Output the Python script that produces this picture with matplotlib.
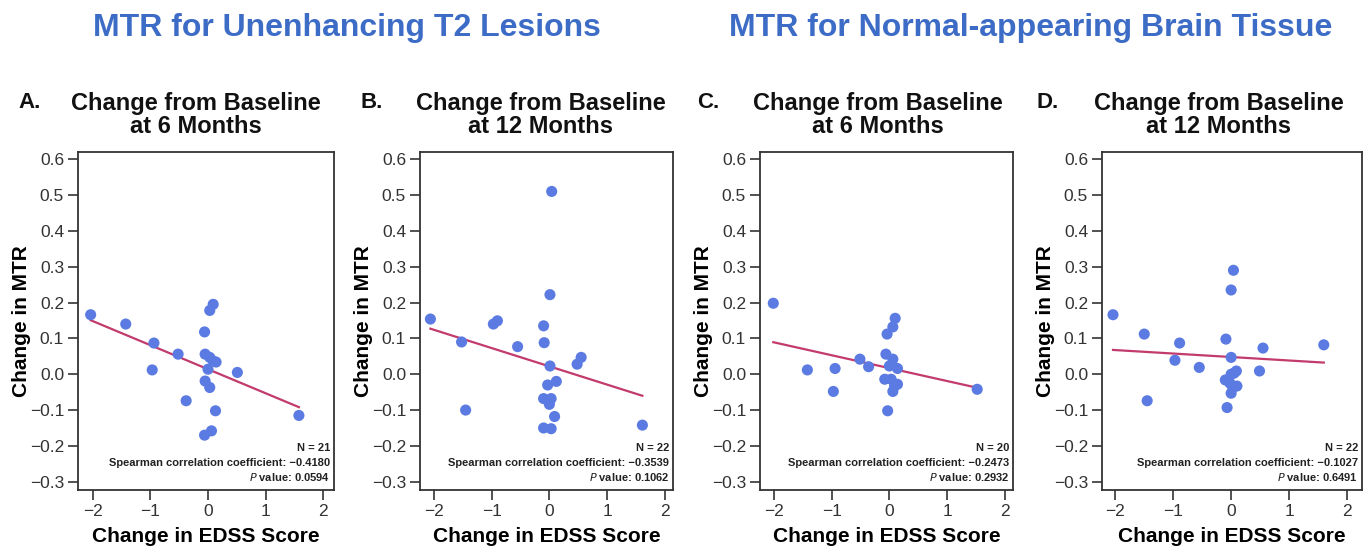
import numpy as np
import matplotlib
matplotlib.use("Agg")
import matplotlib.pyplot as plt
from matplotlib.ticker import FuncFormatter

plt.rcParams['font.family'] = ['Liberation Sans', 'DejaVu Sans']

# ---- data ----
letters = ['A.', 'B.', 'C.', 'D.']
subtitles = ['Change from Baseline\nat 6 Months', 'Change from Baseline\nat 12 Months',
             'Change from Baseline\nat 6 Months', 'Change from Baseline\nat 12 Months']
group_titles = ['MTR for Unenhancing T2 Lesions', 'MTR for Normal-appearing Brain Tissue']

edss_a = [-2.04, -1.43, -0.94, -0.97, -0.52, -0.38, -0.06, -0.05, 0.03, 0.09, 0.14,
          -0.05, 0.03, 0.13, 0.09, 0.03, -0.06, 0.06, 0.51, 1.58, 0.0]
mtr_a = [0.166, 0.140, 0.087, 0.012, 0.056, -0.074, 0.118, 0.056, 0.047, 0.037, 0.034,
         -0.019, -0.037, -0.102, 0.195, 0.178, -0.170, -0.158, 0.005, -0.115, 0.014]

edss_b = [-2.06, -1.52, -1.45, -0.97, -0.90, -0.55, 0.04, 0.01, -0.10, -0.09, 0.01,
          -0.03, 0.12, -0.10, 0.03, 0.0, 0.09, -0.10, 0.03, 0.48, 0.55, 1.61]
mtr_b = [0.154, 0.090, -0.100, 0.140, 0.149, 0.077, 0.510, 0.222, 0.135, 0.088, 0.023,
         -0.030, -0.020, -0.068, -0.068, -0.084, -0.118, -0.150, -0.152, 0.028, 0.047, -0.142]

edss_c = [-2.01, -1.42, -0.94, -0.97, -0.51, -0.36, -0.04, -0.06, 0.06, 0.10, 0.06,
          0.14, -0.08, 0.03, 0.06, 0.14, -0.03, 1.52, 0.0, 0.09]
mtr_c = [0.198, 0.012, 0.016, -0.048, 0.042, 0.021, 0.112, 0.056, 0.042, 0.156, 0.132,
         0.016, -0.014, -0.014, -0.048, -0.028, -0.102, -0.042, 0.023, -0.033]

edss_d = [-2.04, -1.50, -1.45, -0.89, -0.97, -0.55, 0.04, 0.0, -0.09, 0.0, 0.09,
          0.0, -0.10, 0.03, 0.10, 0.0, -0.07, 0.55, 0.49, 1.60, -0.02, 0.05]
mtr_d = [0.166, 0.112, -0.074, 0.087, 0.039, 0.019, 0.290, 0.235, 0.098, 0.047, 0.009,
         0.0, -0.016, -0.037, -0.033, -0.053, -0.093, 0.073, 0.009, 0.082, -0.025, 0.003]

# fitted lines (intercept, slope) as shown
fit_intercept = [0.014, 0.022, 0.017, 0.048]
fit_slope = [-0.067, -0.051, -0.036, -0.0097]

n_values = [21, 22, 20, 22]
spearman = ['\u22120.4180', '\u22120.3539', '\u22120.2473', '\u22120.1027']
p_values = ['0.0594', '0.1062', '0.2932', '0.6491']

xs = [edss_a, edss_b, edss_c, edss_d]
ys = [mtr_a, mtr_b, mtr_c, mtr_d]

W, H = 1367, 556
fig = plt.figure(figsize=(W / 100, H / 100), dpi=100, facecolor='white')

# axes boxes in pixels: left, right, top, bottom
boxes = [(78, 334, 152, 490), (420, 673, 152, 490), (760, 1013, 152, 490), (1102, 1362, 152, 490)]
xlims = [(-2.26, 2.19), (-2.24, 2.14), (-2.24, 2.14), (-2.23, 2.26)]

dot_color = '#5b7be2'
line_color = '#c23b6c'
blue_title = '#3d6cc6'

def minus_fmt(fmt):
    return FuncFormatter(lambda v, p: (fmt % v).replace('-', '\u2212'))

for i in range(4):
    l, r, t, b = boxes[i]
    ax = fig.add_axes([l / W, 1 - b / H, (r - l) / W, (b - t) / H])
    ax.scatter(xs[i], ys[i], s=64, color=dot_color, edgecolors='none', zorder=3)
    xl = np.array([min(xs[i]), max(xs[i])])
    ax.plot(xl, fit_intercept[i] + fit_slope[i] * xl, color=line_color, lw=1.6, zorder=2)
    ax.set_xlim(*xlims[i])
    ax.set_ylim(-0.323, 0.62)
    ax.set_xticks([-2, -1, 0, 1, 2])
    ax.set_yticks(np.arange(-0.3, 0.61, 0.1))
    ax.xaxis.set_major_formatter(minus_fmt('%d'))
    ax.yaxis.set_major_formatter(minus_fmt('%.1f'))
    ax.tick_params(direction='out', length=7, width=1.2, labelsize=12.5,
                   colors='#333333', pad=3)
    for sp in ax.spines.values():
        sp.set_linewidth(1.3)
        sp.set_color('#333333')
    ax.set_ylabel('Change in MTR', fontsize=15, fontweight='bold', labelpad=-1)
    ax.set_xlabel('Change in EDSS Score', fontsize=15, fontweight='bold', labelpad=6)

    ax.text(0.985, 0.124, 'N = %d' % n_values[i], transform=ax.transAxes,
            ha='right', va='center', fontsize=8, fontweight='bold', color='#222222')
    ax.text(0.985, 0.081, 'Spearman correlation coefficient: ' + spearman[i],
            transform=ax.transAxes, ha='right', va='center', fontsize=8,
            fontweight='bold', color='#222222')
    ax.text(0.985, 0.037, '$\\mathbf{\\mathit{P}}$ value: ' + p_values[i],
            transform=ax.transAxes, ha='right', va='center', fontsize=8,
            fontweight='bold', color='#222222')

# panel letters and subtitles
letter_x = [18, 360, 697, 1037]
sub_x = [196, 541, 878, 1219]
for i in range(4):
    fig.text(letter_x[i] / W, 1 - 103 / H, letters[i], fontsize=16, fontweight='bold',
             ha='left', va='center', color='#111111')
    fig.text(sub_x[i] / W, 1 - 115 / H, subtitles[i], fontsize=17, fontweight='bold',
             ha='center', va='center', color='#111111', linespacing=1.0)

fig.text(347 / W, 1 - 28 / H, group_titles[0], fontsize=23, fontweight='bold',
         ha='center', va='center', color=blue_title)
fig.text(1031 / W, 1 - 28 / H, group_titles[1], fontsize=23, fontweight='bold',
         ha='center', va='center', color=blue_title)

fig.savefig('out.png', dpi=100, facecolor='white')
